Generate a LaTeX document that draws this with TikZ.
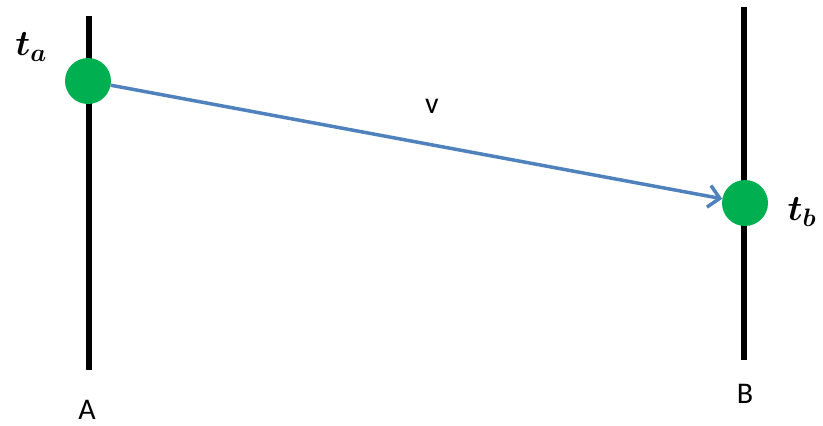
\RequirePackage{fix-cm}
\documentclass[tikz,border=0pt]{standalone}
\usepackage{fontspec}
\setsansfont{Carlito}
\usetikzlibrary{arrows.meta}
\definecolor{dotgreen}{HTML}{00B050}
\definecolor{arrowblue}{HTML}{4F81BD}
\begin{document}
\begin{tikzpicture}[x=1pt,y=-1pt,
  axis/.style={line width=6pt,black},
  event/.style={circle,fill=dotgreen,minimum size=46pt,inner sep=0pt},
  lbl/.style={font=\sffamily\fontsize{30}{34}\selectfont},
  tlbl/.style={font=\fontsize{36}{40}\selectfont\boldmath}]
\useasboundingbox (0,0) rectangle (823,426);
\coordinate (atop) at (89,16);
\coordinate (abot) at (89,370);
\coordinate (btop) at (744,7);
\coordinate (bbot) at (744,360);
\draw[axis] (atop) -- (abot);
\draw[axis] (btop) -- (bbot);
\node[event] (ea) at (88,81) {};
\node[event] (eb) at (745,203) {};
\draw[arrowblue,line width=3.5pt,-{Straight Barb[length=11pt,width=22pt,line width=3.5pt]}] (ea) -- (eb);
\node[tlbl] (ta) at (31,47) {$t_a$};
\node[tlbl] (tb) at (802,212) {$t_b$};
\node[lbl] (v) at (432,106) {v};
\node[lbl] (A) at (87,410) {A};
\node[lbl] (B) at (745,394) {B};
\end{tikzpicture}
\end{document}
